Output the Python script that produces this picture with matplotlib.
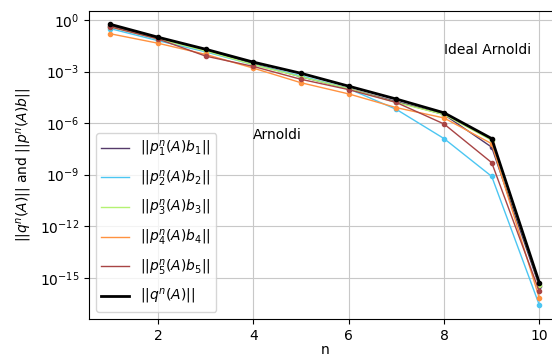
import matplotlib
matplotlib.use('Agg')
import matplotlib.pyplot as plt
import numpy as np

n = np.arange(1, 11)

# log10 of the norms
p1 = [-0.35, -1.05, -1.75, -2.55, -3.3, -4.0, -4.75, -5.5, -7.4, -15.5]
p2 = [-0.5, -1.2, -1.85, -2.6, -3.25, -4.0, -5.2, -6.9, -9.1, -16.6]
p3 = [-0.4, -1.1, -1.8, -2.6, -3.3, -4.0, -4.8, -5.5, -7.0, -15.4]
p4 = [-0.8, -1.35, -2.0, -2.8, -3.65, -4.3, -5.1, -5.7, -7.2, -16.2]
p5 = [-0.4, -1.1, -2.1, -2.7, -3.45, -4.05, -4.8, -6.05, -8.3, -15.8]
q = [-0.25, -1.0, -1.7, -2.45, -3.1, -3.85, -4.6, -5.4, -6.9, -15.3]

series = [p1, p2, p3, p4, p5]
colors = ['#553a6a', '#4cc6f2', '#b4f272', '#ff9240', '#a84444']
labels = ['$||p_%d^n(A)b_%d||$' % (i, i) for i in range(1, 6)]

fig = plt.figure(figsize=(5.52, 3.58), dpi=100)
ax = fig.add_axes([0.161, 0.109, 0.855, 0.86])

for s, c, l in zip(series, colors, labels):
    y = 10.0**np.array(s)
    ax.semilogy(n, y, color=c, linewidth=1, label=l)
    ax.semilogy(n, y, color=c, marker='o', markersize=3, linestyle='none')
ax.semilogy(n, 10.0**np.array(q), color='black', linewidth=2, label='$||q^n(A)||$')
ax.semilogy(n, 10.0**np.array(q), color='black', marker='o', markersize=3, linestyle='none')

ax.set_xlim(0.55, 10.45)
ax.set_ylim(10**-17.4, 10**0.52)
ax.set_yticks([1e0, 1e-3, 1e-6, 1e-9, 1e-12, 1e-15])
ax.minorticks_off()
ax.grid(True, color='#c8c8c8')

ax.text(8, 10**-1.75, 'Ideal Arnoldi', va='center')
ax.text(4, 10**-6.7, 'Arnoldi', va='center')

ax.set_xlabel('n', labelpad=0)
ax.set_ylabel('$||q^n(A)||$ and $||p^n(A)b||$')
ax.legend(loc='lower left', labelspacing=0.7)

fig.savefig('out.png', dpi=100)
